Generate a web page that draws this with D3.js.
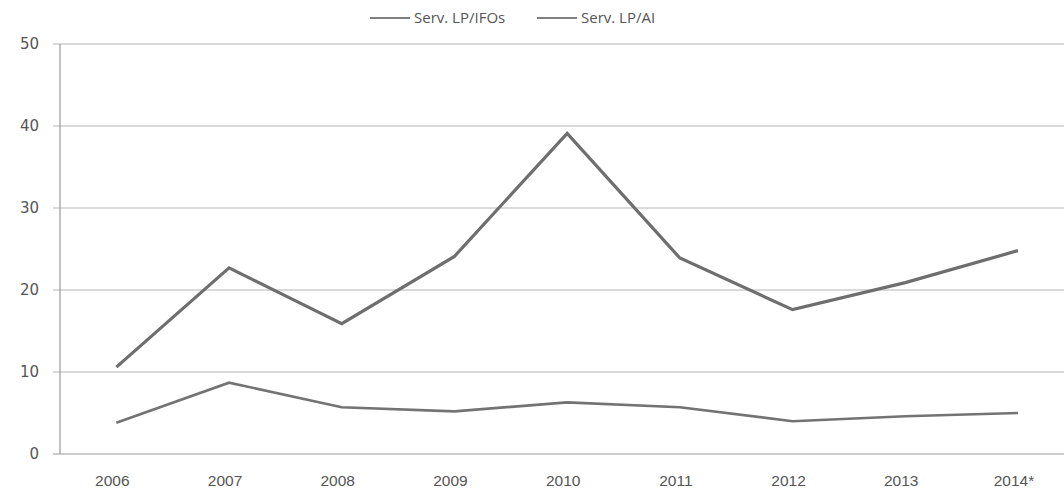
<!DOCTYPE html>
<html>
<head>
<meta charset="utf-8">
<style>
  body { margin: 0; background: #fff; }
  svg text { fill: #555; }
</style>
</head>
<body>
<svg width="1064" height="496"></svg>
<script src="https://d3js.org/d3.v7.min.js"></script>
<script>

// Data
var years = ["2006", "2007", "2008", "2009", "2010", "2011", "2012", "2013", "2014*"];
var servIFOs = [10.6, 22.7, 15.9, 24.1, 39.1, 23.9, 17.6, 20.9, 24.8];
var servAI = [3.8, 8.7, 5.7, 5.2, 6.3, 5.7, 4.0, 4.6, 5.0];
var yTicks = [0, 10, 20, 30, 40, 50];

var svg = d3.select("svg"),
    margin = {top: 44, left: 60, bottom: 42},
    height = 496 - margin.top - margin.bottom;

// plot runs slightly past the right edge of the picture
var x = d3.scaleBand()
    .domain(years)
    .range([margin.left, margin.left + 9 * 112.7]);

var y = d3.scaleLinear()
    .domain([0, 50])
    .range([margin.top + height, margin.top]);

var cx = function(d) { return x(d) + x.bandwidth() / 2; };

// gridlines
svg.append("g")
  .selectAll("line")
  .data(yTicks)
  .join("line")
    .attr("x1", margin.left - 7)
    .attr("x2", 1064)
    .attr("y1", function(d) { return y(d); })
    .attr("y2", function(d) { return y(d); })
    .attr("stroke", function(d) { return d === 0 ? "#999" : "#b5b5b5"; })
    .attr("stroke-width", 1.2);

// y axis line
svg.append("line")
    .attr("x1", margin.left).attr("x2", margin.left)
    .attr("y1", y(50)).attr("y2", y(0))
    .attr("stroke", "#999")
    .attr("stroke-width", 1.2);

// y labels
svg.append("g")
  .selectAll("text")
  .data(yTicks)
  .join("text")
    .attr("x", 39)
    .attr("y", function(d) { return y(d); })
    .attr("dy", "0.35em")
    .attr("text-anchor", "end")
    .attr("font-family", "DejaVu Sans, Verdana, sans-serif")
    .attr("font-size", 15)
    .text(function(d) { return d; });

// x labels
svg.append("g")
  .selectAll("text")
  .data(years)
  .join("text")
    .attr("x", function(d) { return cx(d) - 4; })
    .attr("y", 486)
    .attr("text-anchor", "middle")
    .attr("font-family", "Liberation Sans Narrow, Arial Narrow, sans-serif")
    .attr("font-size", 15.5)
    .text(function(d) { return d; });

var line = d3.line()
    .x(function(d, i) { return cx(years[i]); })
    .y(function(d) { return y(d); });

svg.append("path")
    .datum(servIFOs)
    .attr("fill", "none")
    .attr("stroke", "#6e6e6e")
    .attr("stroke-width", 3.2)
    .attr("d", line);

svg.append("path")
    .datum(servAI)
    .attr("fill", "none")
    .attr("stroke", "#737373")
    .attr("stroke-width", 2.6)
    .attr("d", line);

// legend
var legend = [
  {name: "Serv. LP/IFOs", x: 370},
  {name: "Serv. LP/AI", x: 537}
];
var lg = svg.append("g").selectAll("g").data(legend).join("g")
    .attr("transform", function(d) { return "translate(" + d.x + ",18)"; });
lg.append("line")
    .attr("x1", 0).attr("x2", 40)
    .attr("stroke", "#555")
    .attr("stroke-width", 1.5);
lg.append("text")
    .attr("x", 44)
    .attr("dy", "0.35em")
    .attr("font-family", "Open Sans, sans-serif")
    .attr("font-size", 15)
    .text(function(d) { return d.name; });

</script>
</body>
</html>
